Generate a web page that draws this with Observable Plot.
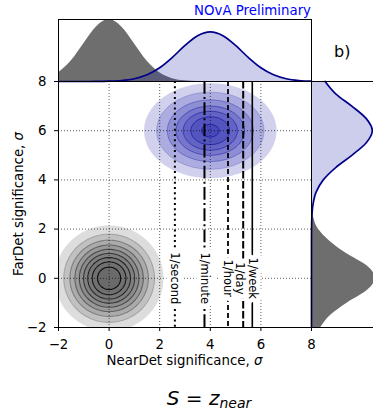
<!DOCTYPE html>
<html><head><meta charset="utf-8">
<script src="https://cdn.jsdelivr.net/npm/d3@7"></script>
<script src="https://cdn.jsdelivr.net/npm/@observablehq/plot@0.6"></script>
<style>
body{margin:0;background:#fff;}
#wrap{position:relative;width:373px;height:410px;overflow:hidden;font-family:"DejaVu Sans",sans-serif;background:#fff;}
#wrap svg{position:absolute;left:0;top:0;}
</style></head><body><div id="wrap"></div>
<script>
// ---- axis ticks ----
const xTicks = [-2, 0, 2, 4, 6, 8];
const yTicks = [-2, 0, 2, 4, 6, 8];
const gridVals = [0, 2, 4, 6];

// ---- 2D Gaussian blobs (background at origin, signal) ----
const blobX = [0, 4];
const blobY = [0, 6];
const blobSx = [1.0, 1.22];
const blobSy = [1.0, 0.9];
const grayLevels = [0.1, 0.2, 0.3, 0.4, 0.5, 0.6, 0.7, 0.8, 0.9];
const blueLevels = [0.1, 0.22, 0.38, 0.54, 0.68, 0.82, 0.96];

// ---- rate thresholds ----
const rateLabels = ["1/second", "1/minute", "1/hour", "1/day", "1/week"];
const rateX = [2.6, 3.77, 4.7, 5.3, 5.66];
const rateLabelX = [2.6, 3.77, 4.7, 5.18, 5.66];

// ---- marginal distributions ----
const margX = [-2,-1.5,-1,-0.5,0,0.5,1,1.5,2,2.5,3,3.5,4,4.5,5,5.5,6,6.5,7,7.5,8];
const topGray = [0.14,0.33,0.61,0.88,1.0,0.88,0.61,0.33,0.14,0.045,0.011,0.002,0,0,0,0,0,0,0,0,0];
const topBlue = [0,0,0,0.001,0.005,0.016,0.045,0.108,0.222,0.389,0.581,0.738,0.8,0.738,0.581,0.389,0.222,0.108,0.045,0.016,0.005];
const margY = [-2,-1.5,-1,-0.5,0,0.5,1,1.5,2,2.5,3,3.5,4,4.5,5,5.5,6,6.5,7,7.5,8];
const rightGray = [0.15,0.31,0.58,0.90,1.03,0.90,0.57,0.30,0.11,0.032,0.007,0.001,0,0,0,0,0,0,0,0,0];
const rightBlue = [0,0,0,0,0,0,0,0,0.001,0.006,0.024,0.074,0.19,0.39,0.65,0.88,0.98,0.88,0.65,0.39,0.22];

const wrap = document.getElementById("wrap");
const font = {fontFamily: "DejaVu Sans", fontSize: "13.33px", background: "transparent", color: "#000", overflow: "visible"};

const gauss = (i) => (x, y) =>
  Math.exp(-(((x - blobX[i]) ** 2) / (2 * blobSx[i] ** 2) + ((y - blobY[i]) ** 2) / (2 * blobSy[i] ** 2)));
const ext = {x1: -2, y1: -2, x2: 8, y2: 8};

const rates = rateLabels.map((label, i) => ({label, x: rateX[i], lx: rateLabelX[i]}));
const rateDash = ["2,3.3", "12.8,3.2,2,3.2", "5,3", "7.4,2.6", null];
const rateWidth = [2, 2, 1.8, 2, 1.6];

const main = Plot.plot({
  width: 373, height: 375,
  marginLeft: 58, marginRight: 62, marginTop: 81, marginBottom: 48,
  style: font,
  x: {domain: [-2, 8], ticks: xTicks, tickSize: 4, tickPadding: 8, label: null},
  y: {domain: [-2, 8], ticks: yTicks, tickSize: 4, tickPadding: 8, label: null},
  opacity: {domain: [0.1, 0.9], range: [0.3, 1]},
  marks: [
    Plot.contour({value: gauss(0), ...ext, thresholds: grayLevels, fill: "#555", fillOpacity: 0.2, stroke: "none"}),
    Plot.contour({value: gauss(0), ...ext, thresholds: grayLevels.slice(1), fill: "none", stroke: "black", strokeOpacity: "value", strokeWidth: 1.1}),
    Plot.contour({value: gauss(1), ...ext, thresholds: blueLevels, fill: "#1a1aa8", fillOpacity: 0.2, stroke: "none"}),
    Plot.contour({value: gauss(1), ...ext, thresholds: blueLevels.slice(1), fill: "none", stroke: "#2020a0", strokeOpacity: "value", strokeWidth: 1}),
    Plot.ruleX(gridVals, {stroke: "black", strokeOpacity: 0.8, strokeWidth: 0.8, strokeDasharray: "1,2"}),
    Plot.ruleY(gridVals, {stroke: "black", strokeOpacity: 0.8, strokeWidth: 0.8, strokeDasharray: "1,2"}),
    ...rates.map((r, i) => Plot.ruleX([r.x], {stroke: "black", strokeWidth: rateWidth[i], strokeDasharray: rateDash[i] || undefined})),
    Plot.text(rates, {x: "lx", y: 0, text: "label", rotate: 90, fontSize: 11.5, fill: "white", stroke: "white", strokeWidth: 9}),
    Plot.text(rates, {x: "lx", y: 0, text: "label", rotate: 90, fontSize: 11.5, fill: "black"}),
    Plot.frame({stroke: "black"})
  ]
});
wrap.appendChild(main);

const topRows = margX.map((x, i) => ({x, gray: topGray[i], blue: topBlue[i]}));
const topPlot = Plot.plot({
  width: 373, height: 82,
  marginLeft: 58, marginRight: 62, marginTop: 19, marginBottom: 1,
  style: font,
  x: {domain: [-2, 8], axis: null},
  y: {domain: [0, 1], axis: null},
  marks: [
    Plot.areaY(topRows, {x: "x", y: "gray", fill: "#6e6e6e", curve: "monotone-x"}),
    Plot.areaY(topRows, {x: "x", y: "blue", fill: "#1a1aa8", fillOpacity: 0.22, curve: "monotone-x"}),
    Plot.lineY(topRows, {x: "x", y: "blue", stroke: "#00008b", strokeWidth: 1.7, curve: "monotone-x"}),
    Plot.frame({stroke: "black"})
  ]
});
wrap.appendChild(topPlot);

const rightRows = margY.map((y, i) => ({y, gray: rightGray[i], blue: rightBlue[i]}));
const rightPlot = Plot.plot({
  width: 373, height: 328,
  marginLeft: 311, marginRight: 0, marginTop: 81, marginBottom: 1,
  style: font,
  x: {domain: [0, 1], axis: null},
  y: {domain: [-2, 8], axis: null},
  marks: [
    Plot.areaX(rightRows, {y: "y", x: "gray", fill: "#6e6e6e", curve: "monotone-y"}),
    Plot.areaX(rightRows, {y: "y", x: "blue", fill: "#1a1aa8", fillOpacity: 0.22, curve: "monotone-y"}),
    Plot.lineX(rightRows, {y: "y", x: "blue", stroke: "#00008b", strokeWidth: 1.7, curve: "monotone-y"}),
    Plot.ruleX([0], {stroke: "black"}),
    Plot.ruleY([-2, 8], {stroke: "black"})
  ]
});
wrap.appendChild(rightPlot);

// ---- annotation text ----
const ns = "http://www.w3.org/2000/svg";
const ann = document.createElementNS(ns, "svg");
ann.setAttribute("width", 373); ann.setAttribute("height", 410);
ann.style.fontFamily = "DejaVu Sans";
function addText(str, x, y, opts = {}) {
  const t = document.createElementNS(ns, "text");
  t.setAttribute("x", x); t.setAttribute("y", y);
  t.setAttribute("font-size", opts.size || 13.33);
  t.setAttribute("text-anchor", opts.anchor || "middle");
  t.setAttribute("fill", opts.fill || "black");
  if (opts.rotate) t.setAttribute("transform", `rotate(${opts.rotate},${x},${y})`);
  t.innerHTML = str;
  ann.appendChild(t);
  return t;
}
addText("NOvA Preliminary", 311, 15, {anchor: "end", fill: "#0000ff"});
addText("b)", 334, 57, {anchor: "start", size: 16});
addText('NearDet significance, <tspan font-style="italic">σ</tspan>', 184.5, 365);
addText('FarDet significance, <tspan font-style="italic">σ</tspan>', 23, 204, {rotate: -90});
addText('<tspan font-style="italic">S</tspan> = <tspan font-style="italic">z</tspan><tspan font-style="italic" font-size="14" dy="3">near</tspan>', 209, 405, {size: 20});
wrap.appendChild(ann);
</script></body></html>
